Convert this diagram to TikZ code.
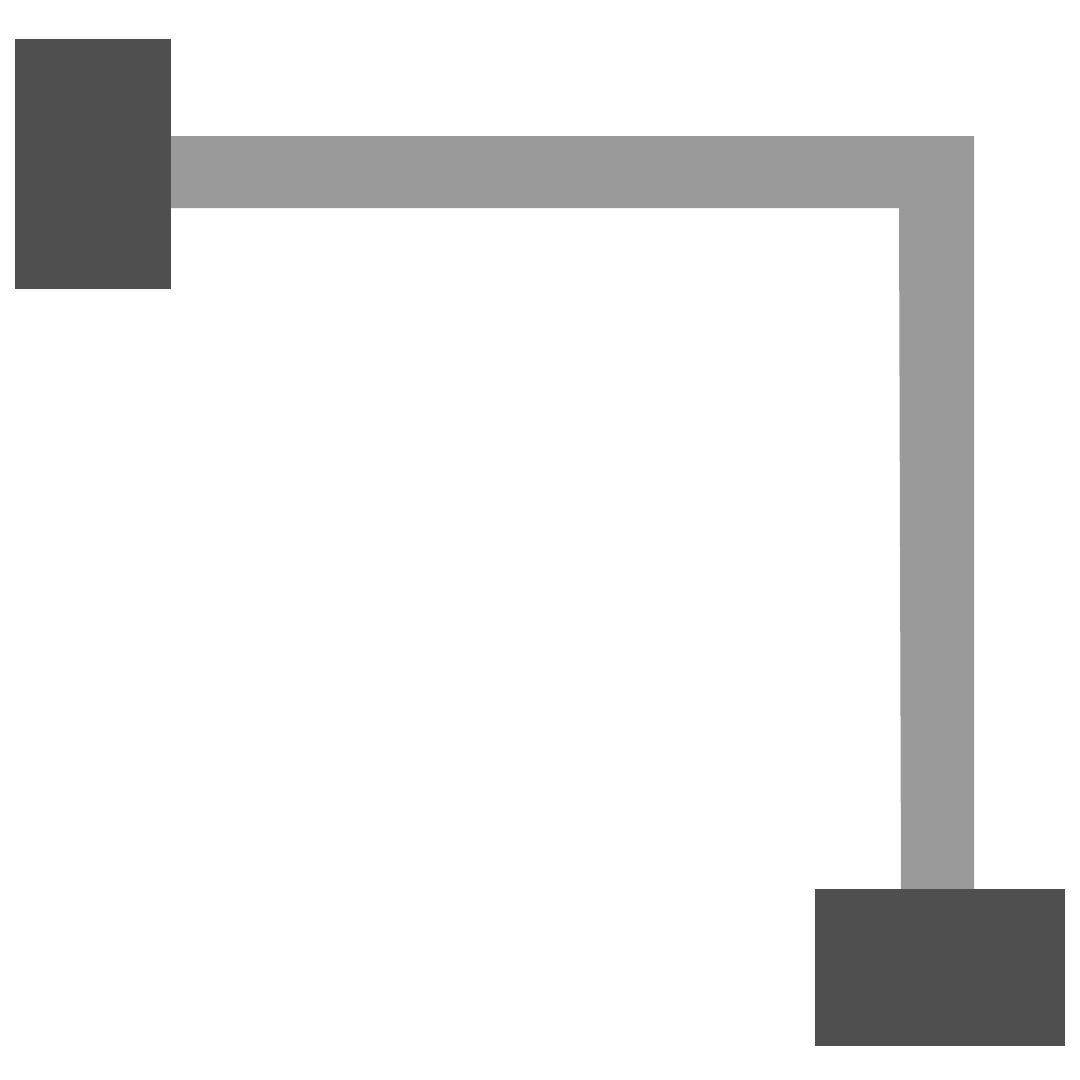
\documentclass[tikz,border=0pt]{standalone}
\usetikzlibrary{positioning}
\definecolor{darkbox}{HTML}{4F4F4F}
\definecolor{linkgray}{HTML}{9A9A9A}
\begin{document}
\begin{tikzpicture}[x=1pt,y=-1pt,
  blockbox/.style={fill=darkbox,draw=none,inner sep=0pt,outer sep=0pt,anchor=north west}]
\useasboundingbox (0,0) rectangle (1080,1080);
\fill[white] (0,0) rectangle (1080,1080);
% connector (L-shaped band)
\fill[linkgray] (171,136) -- (974,136) -- (974,889) -- (901,889) -- (899,208) -- (171,208) -- cycle;
% blocks
\node[blockbox,minimum width=156pt,minimum height=250pt] (a) at (15,39) {};
\node[blockbox,minimum width=250pt,minimum height=157pt] (b) at (815,889) {};
\end{tikzpicture}
\end{document}
